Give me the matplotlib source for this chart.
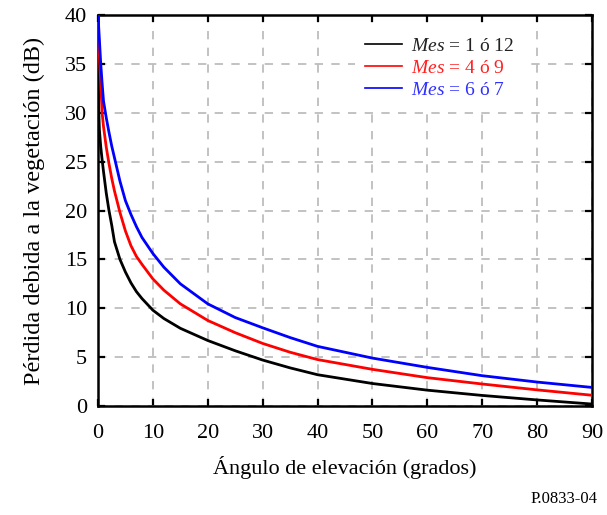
#!/usr/bin/env python
# -*- coding: utf-8 -*-

import matplotlib
matplotlib.use('Agg')
from matplotlib import pyplot as plt
from matplotlib.lines import Line2D

plt.rcParams['font.family'] = ['Liberation Serif', 'DejaVu Serif']
plt.rcParams['mathtext.fontset'] = 'custom'
plt.rcParams['mathtext.it'] = 'Liberation Serif:italic'
plt.rcParams['mathtext.rm'] = 'Liberation Serif'

# angle of elevation (degrees)
angles = [0.02, 0.1, 0.25, 0.5, 0.75, 1, 1.5, 2, 2.5, 3, 4, 5, 6, 7, 8, 10, 12, 15,
          20, 25, 30, 35, 40, 50, 60, 70, 80, 90]

# vegetation loss (dB) per month group
loss_1_12 = [40, 31, 28.3, 26.5, 25.2, 24.0, 21.8, 20.0, 18.5, 16.8, 15.0, 13.7, 12.6,
             11.7, 11.0, 9.8, 8.95, 7.95, 6.7, 5.65, 4.7, 3.9, 3.2, 2.3, 1.62, 1.08, 0.62, 0.2]
loss_4_9 = [40, 38, 36, 33, 30, 28.6, 26.5, 24.8, 23.3, 22.0, 19.8, 17.9, 16.4,
            15.3, 14.5, 13.0, 11.85, 10.45, 8.75, 7.5, 6.4, 5.5, 4.75, 3.75, 2.9, 2.25, 1.65, 1.1]
loss_6_7 = [40, 39, 37.5, 35, 33, 31.2, 29.5, 28.0, 26.6, 25.4, 23.0, 21.0, 19.6,
            18.35, 17.25, 15.6, 14.2, 12.5, 10.45, 9.05, 8.0, 7.0, 6.1, 4.9, 3.95, 3.1, 2.45, 1.9]

labels = [r'$\mathit{Mes}$ = 1 ó 12',
          r'$\mathit{Mes}$ = 4 ó 9',
          r'$\mathit{Mes}$ = 6 ó 7']
colors = ['black', '#ff0000', '#0000ff']
text_colors = ['#222222', '#ff2020', '#3030ff']

x_ticks = list(range(0, 91, 10))
y_ticks = list(range(0, 41, 5))

fig = plt.figure(figsize=(6.07, 5.15), dpi=100)
ax = fig.add_axes([98 / 607, 1 - 406 / 515, (592 - 98) / 607, (406 - 15) / 515])

for y, c in zip([loss_1_12, loss_4_9, loss_6_7], colors):
    ax.plot(angles, y, color=c, lw=2.0, solid_joinstyle='round', zorder=3)

ax.set_xlim(0, 90)
ax.set_ylim(0, 40)
ax.set_xticks(x_ticks)
ax.set_yticks(y_ticks)
ax.grid(True, color='#b8b8b8', ls=(0, (5, 5)), lw=1.2)

ax.tick_params(direction='in', length=5, width=1.6, top=True, right=True,
               labelsize=16)
ax.tick_params(axis='x', pad=13)
ax.tick_params(axis='y', pad=8)
for s in ax.spines.values():
    s.set_linewidth(1.8)

ax.set_xlabel('Ángulo de elevación (grados)', fontsize=16, labelpad=9)
ax.set_ylabel('Pérdida debida a la vegetación (dB)', fontsize=17.5, labelpad=14)

handles = [Line2D([0], [0], color=c, lw=1.2) for c in colors]
leg = ax.legend(handles, labels, loc='upper left', bbox_to_anchor=(0.52, 0.968),
                borderaxespad=0, borderpad=0.5, frameon=True, fancybox=False,
                facecolor='white', edgecolor='none', framealpha=1, fontsize=14,
                handlelength=1.9, handletextpad=0.5, labelspacing=0.22)
for t, c in zip(leg.get_texts(), text_colors):
    t.set_color(c)

fig.text(0.985, 0.015, 'P.0833-04', ha='right', va='bottom', fontsize=12)

fig.savefig('out.png', dpi=100)
